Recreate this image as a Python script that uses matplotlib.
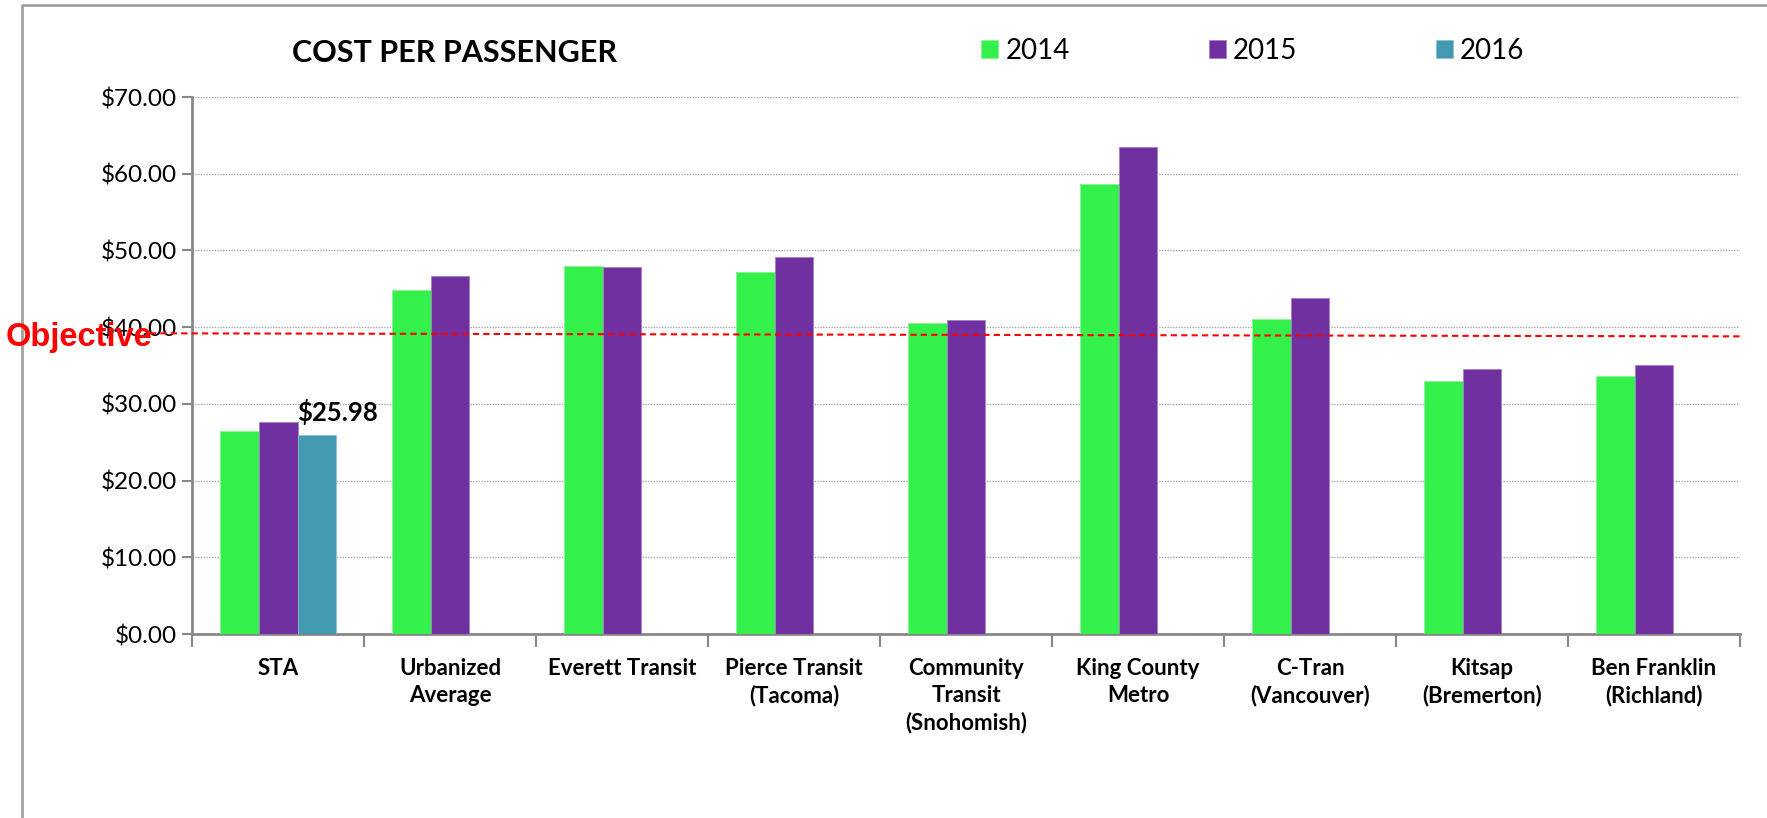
import numpy as np
import matplotlib.pyplot as plt
from matplotlib.lines import Line2D

plt.rcParams['font.family'] = ['Lato', 'DejaVu Sans']

agencies = ['STA', 'Urbanized\nAverage', 'Everett Transit', 'Pierce Transit\n(Tacoma)',
            'Community\nTransit\n(Snohomish)', 'King County\nMetro', 'C-Tran\n(Vancouver)',
            'Kitsap\n(Bremerton)', 'Ben Franklin\n(Richland)']
cost_2014 = [26.5, 44.9, 48.0, 47.2, 40.6, 58.7, 41.1, 33.0, 33.6]
cost_2015 = [27.7, 46.7, 47.9, 49.1, 40.9, 63.5, 43.8, 34.5, 35.1]
cost_2016 = [25.98]          # only STA has 2016 data
objective = [39.2, 38.8]     # hand-drawn line, slightly sloped
years = ['2014', '2015', '2016']
colors = ['#33F04A', '#7030A0', '#4399B0']

fig = plt.figure(figsize=(17.67, 8.18), dpi=100)
ax = fig.add_axes([0.1087, 0.2249, 0.8760, 0.6565])

x = np.arange(len(agencies))
w = 0.226
b1 = ax.bar(x - w, cost_2014, w, color=colors[0], edgecolor='#8BF596', linewidth=0.6, label=years[0], zorder=3)
b2 = ax.bar(x, cost_2015, w, color=colors[1], edgecolor='#A77FC8', linewidth=0.6, label=years[1], zorder=3)
b3 = ax.bar(x[:len(cost_2016)] + w, cost_2016, w, color=colors[2], edgecolor='#8CC2D2',
            linewidth=0.6, label=years[2], zorder=3)

ax.text(x[0] + w / 2, cost_2016[0] + 1.8, '${:.2f}'.format(cost_2016[0]),
        fontsize=18.5, fontweight='bold', ha='left', va='baseline', zorder=5)

ax.set_xlim(-0.5, len(agencies) - 0.5)
ax.set_ylim(0, 70)
ax.set_yticks(np.arange(0, 71, 10))
ax.set_yticklabels(['${:.2f}'.format(v) for v in np.arange(0, 71, 10)], fontsize=17.5)
ax.yaxis.grid(True, linestyle=(0, (1, 1)), color='#A6A6A6', linewidth=1.0, zorder=0)

ax.set_xticks(x)
ax.set_xticklabels(agencies, fontsize=16, fontweight='bold', linespacing=1.35, va='top')
ax.tick_params(axis='x', length=0, pad=17)
ax.set_xticks(np.arange(-0.5, len(agencies)), minor=True)
ax.tick_params(axis='x', which='minor', length=9, width=1.5, color='#888888')
ax.tick_params(axis='y', length=7, width=1.5, color='#888888', pad=4)

for s in ['top', 'right']:
    ax.spines[s].set_visible(False)
for s in ['left', 'bottom']:
    ax.spines[s].set_color('#888888')
    ax.spines[s].set_linewidth(2)

# objective line runs past the y axis, under the label
ax.plot([-0.745, len(agencies) - 0.5], objective, color='red', linestyle=(0, (3, 2)),
        linewidth=1.5, clip_on=False, zorder=4)
fig.text(6 / 1767, 1 - 338 / 818, 'Objective', color='red', fontsize=23.5, fontweight='bold',
         family=['Liberation Sans', 'DejaVu Sans'], ha='left', va='center', zorder=6)

fig.text(455 / 1767, 1 - 53 / 818, 'COST PER PASSENGER', fontsize=22, fontweight='bold',
         ha='center', va='center')

fig.legend(handles=[b1, b2, b3], labels=years, loc='center', bbox_to_anchor=(0.709, 0.938),
           ncol=3, frameon=False, fontsize=20, handlelength=0.62, handleheight=0.62,
           handletextpad=0.25, columnspacing=5.0)

# outer chart frame (top and left edges only visible)
fig.add_artist(Line2D([22 / 1767, 22 / 1767, 1.0], [0.0, 1 - 5 / 818, 1 - 5 / 818],
                      color='#A0A0A0', linewidth=2, transform=fig.transFigure))

fig.savefig('out.png', dpi=100)
